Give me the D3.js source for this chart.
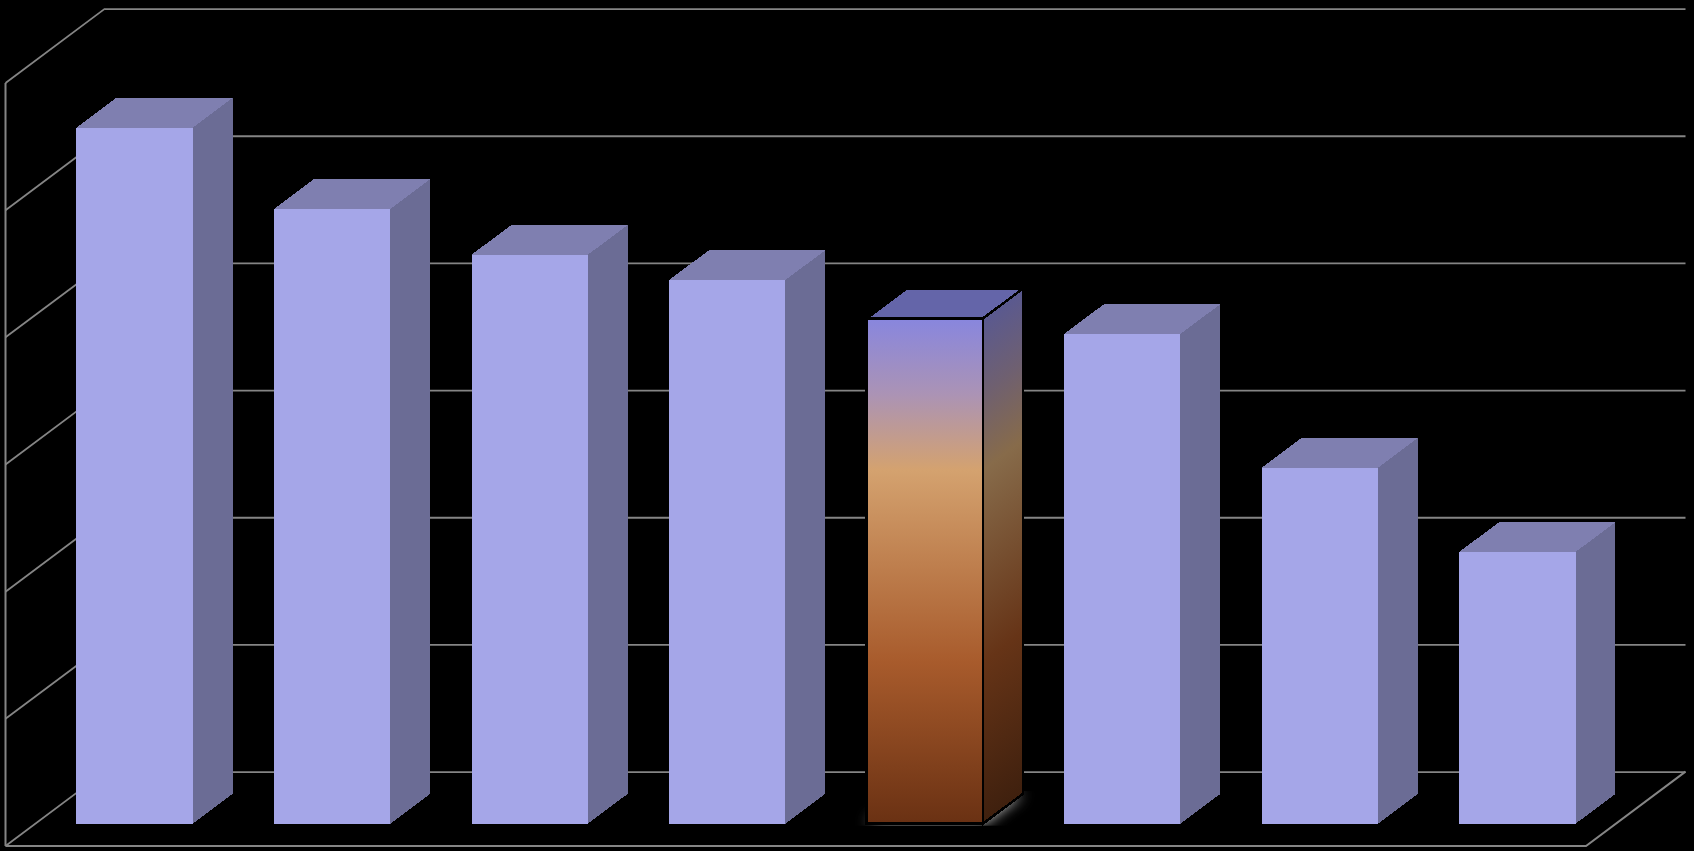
<!DOCTYPE html>
<html>
<head>
<meta charset="utf-8">
<style>
  html, body { margin: 0; padding: 0; background: #000; overflow: hidden; }
  svg { display: block; }
</style>
<script src="https://cdn.jsdelivr.net/npm/d3@7"></script>
</head>
<body>
<div id="container"></div>
<script>
const svgWidth = 1694;
const svgHeight = 851;

// Data, in gridline units (the picture has no labels)
const categories = ['1', '2', '3', '4', '5', '6', '7', '8'];
const values = [5.473, 4.834, 4.474, 4.275, 3.973, 3.851, 2.799, 2.137];
const highlighted = '5';
const gridTicks = [0, 1, 2, 3, 4, 5, 6];

// Gradient stops of the highlighted bar
const stopOffsets = [0, 0.15, 0.3, 0.68, 1];
const frontStops = ['#8886de', '#ab93b5', '#d4a26f', '#a85b2c', '#6a3113'];
const sideStops = ['#5a5990', '#6f6070', '#876b4a', '#663417', '#3f200e'];

// Oblique projection: wall depth and the part of it the bars take up
const depthX = 99.5;
const depthY = 74.4;
const barFront = 0.3;
const barBack = 0.7;
const barShift = 0.4;

const x = d3
  .scaleBand()
  .domain(categories)
  .range([5.5, 1586])
  .paddingInner(0.411)
  .paddingOuter(0.2058);

const y = d3.scaleLinear().domain([0, 6]).range([846, 83]);

const project = (px, v, depth) => [px + depth * depthX, y(v) - depth * depthY];

const svg = d3
  .select('#container')
  .append('svg')
  .attr('width', svgWidth)
  .attr('height', svgHeight)
  .style('background', '#000');

const defs = svg.append('defs');

const addGradient = (id, colors) => {
  const gradient = defs.append('linearGradient').attr('id', id);
  gradient
    .selectAll('stop')
    .data(colors)
    .enter()
    .append('stop')
    .attr('offset', (d, i) => stopOffsets[i])
    .attr('stop-color', d => d);
  return gradient;
};

defs
  .append('filter')
  .attr('id', 'glow')
  .attr('x', '-30%')
  .attr('y', '-60%')
  .attr('width', '160%')
  .attr('height', '220%')
  .append('feGaussianBlur')
  .attr('stdDeviation', 7);

// WALLS
const gridColor = '#858585';

svg
  .append('g')
  .attr('id', 'back-grid')
  .attr('transform', `translate(${5.5 + depthX}, ${-depthY})`)
  .call(
    d3
      .axisRight(y)
      .tickValues(gridTicks)
      .tickSize(1580.5)
      .tickFormat('')
  )
  .call(g => g.select('.domain').remove())
  .call(g => g.selectAll('.tick line').attr('stroke', gridColor).attr('stroke-width', 1.8));

svg
  .append('g')
  .attr('id', 'side-grid')
  .selectAll('line')
  .data(gridTicks)
  .enter()
  .append('line')
  .attr('x1', 5.5)
  .attr('y1', d => y(d))
  .attr('x2', 5.5 + depthX)
  .attr('y2', d => y(d) - depthY)
  .attr('stroke', gridColor)
  .attr('stroke-width', 1.8);

svg
  .append('line')
  .attr('x1', 5.5)
  .attr('x2', 5.5)
  .attr('y1', y(0))
  .attr('y2', y(6))
  .attr('stroke', gridColor)
  .attr('stroke-width', 2);

// Floor front edge and right edge
svg
  .append('path')
  .attr('d', d3.line()([
    [5.5, y(0)],
    [x.range()[1], y(0)],
    project(x.range()[1], 0, 1)
  ]))
  .attr('fill', 'none')
  .attr('stroke', gridColor)
  .attr('stroke-width', 2);

// BARS
const facePath = pts => d3.line()(pts) + 'Z';

const bars = categories.map((c, i) => {
  const left = x(c) + barShift;
  const right = left + x.bandwidth();
  const v = values[i];
  return {
    category: c,
    hot: c === highlighted,
    front: [project(left, v, barFront), project(right, v, barFront), project(right, 0, barFront), project(left, 0, barFront)],
    top: [project(left, v, barFront), project(left, v, barBack), project(right, v, barBack), project(right, v, barFront)],
    side: [project(right, v, barFront), project(right, v, barBack), project(right, 0, barBack), project(right, 0, barFront)],
    base: [project(left, 0, barFront), project(left, 0, barBack), project(right, 0, barBack), project(right, 0, barFront)]
  };
});

const hotBar = bars.find(d => d.hot);

// Gradients for the highlighted bar
const frontTop = hotBar.front[0][1];
const frontBottom = hotBar.front[3][1];
const frontRight = hotBar.front[1][0];
const barHeight = frontBottom - frontTop;

addGradient('hot-front', frontStops)
  .attr('gradientUnits', 'userSpaceOnUse')
  .attr('x1', 0)
  .attr('x2', 0)
  .attr('y1', frontTop)
  .attr('y2', frontBottom);

// Side face colours run along the slant of the depth edges
addGradient('hot-side', sideStops)
  .attr('gradientUnits', 'userSpaceOnUse')
  .attr('x1', frontRight)
  .attr('y1', frontTop)
  .attr('x2', frontRight + 0.48 * barHeight)
  .attr('y2', frontTop + 0.64 * barHeight);

// Glow round the foot of the highlighted bar
defs
  .append('clipPath')
  .attr('id', 'glow-clip')
  .append('rect')
  .attr('x', 0)
  .attr('width', svgWidth)
  .attr('y', hotBar.base[1][1] - 3)
  .attr('height', frontBottom - hotBar.base[1][1] + 5);

svg
  .append('g')
  .attr('clip-path', 'url(#glow-clip)')
  .append('path')
  .attr('d', facePath(hotBar.base))
  .attr('fill', '#d8d8d8')
  .attr('filter', 'url(#glow)');

const barGroups = svg
  .selectAll('.bar')
  .data(bars)
  .enter()
  .append('g')
  .attr('class', 'bar')
  .attr('shape-rendering', 'crispEdges');

const strokeHot = sel =>
  sel
    .attr('stroke', d => (d.hot ? '#000' : 'none'))
    .attr('stroke-width', d => (d.hot ? 2.5 : 0))
    .attr('stroke-linejoin', 'miter');

barGroups
  .append('path')
  .attr('d', d => facePath(d.side))
  .attr('fill', d => (d.hot ? 'url(#hot-side)' : '#6b6c95'))
  .call(strokeHot);

barGroups
  .append('path')
  .attr('d', d => facePath(d.top))
  .attr('fill', d => (d.hot ? '#6465a9' : '#7f7fb0'))
  .call(strokeHot);

barGroups
  .append('path')
  .attr('d', d => facePath(d.front))
  .attr('fill', d => (d.hot ? 'url(#hot-front)' : '#a5a6e8'))
  .call(strokeHot);
</script>
</body>
</html>
